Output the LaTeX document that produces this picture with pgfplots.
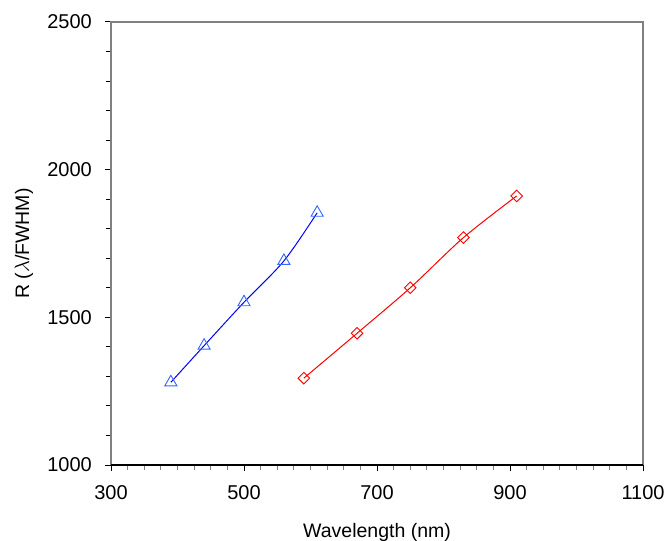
\documentclass[border=0pt]{standalone}
\usepackage{pgfplots}
\pgfplotsset{compat=1.18}
\usepackage{fontspec}
\setmainfont{Liberation Sans}
\definecolor{lineblue}{RGB}{0,0,255}
\definecolor{markblue}{RGB}{51,102,255}
\definecolor{spinegray}{RGB}{128,128,128}
\begin{document}
\begin{tikzpicture}
\begin{axis}[
  scale only axis,
  width=532pt, height=443pt,
  xmin=300, xmax=1100, ymin=1000, ymax=2500,
  xtick={300,500,700,900,1100},
  ytick={1000,1500,2000,2500},
  minor x tick num=7,
  minor y tick num=4,
  xtick pos=bottom, ytick pos=left,
  tick align=outside,
  major tick length=6pt,
  minor tick length=5pt,
  major tick style={black, line width=1pt},
  minor tick style={black, line width=0.9pt},
  minor x tick style={spinegray, line width=0.9pt},
  axis line style={draw=none},
  /pgf/number format/1000 sep={},
  /pgf/number format/assume math mode=true,
  ticklabel style={font=\fontsize{20}{24}\selectfont},
  yticklabel style={inner sep=0pt, anchor=east, xshift=-13pt},
  xticklabel style={inner sep=0pt, anchor=north, yshift=-14pt},
  xlabel={Wavelength (nm)},
  ylabel={R ($\lambda$/FWHM)},
  xlabel style={font=\fontsize{19.5}{23}\selectfont, at={([yshift=-72pt]rel axis cs:0.5,0)}, anchor=base},
  ylabel style={font=\fontsize{19.5}{23}\selectfont, at={([xshift=-87pt]rel axis cs:0,0.5)}, anchor=center},
  clip=false,
]
\draw[spinegray, line width=1.3pt] (rel axis cs:0,0) -- (rel axis cs:0,1) -- (rel axis cs:1,1) -- (rel axis cs:1,0);
\draw[black, line width=1.3pt] (rel axis cs:0,0) -- (rel axis cs:1,0);
\addplot[lineblue, line width=1pt, smooth, tension=0.5, mark=triangle, mark size=7pt, mark options={markblue, line width=0.9pt, solid}]
  coordinates {(390,1280) (440,1404) (500,1551) (560,1691) (610,1854)};
\addplot[red, line width=1pt, smooth, tension=0.5, mark=square, mark size=4.1pt, mark options={red, line width=0.9pt, rotate=45, solid}]
  coordinates {(590,1294) (670,1446) (750,1600) (830,1770) (910,1911)};
\coordinate (SW) at (rel axis cs:0,0);
\coordinate (NE) at (rel axis cs:1,1);
\end{axis}
\pgfresetboundingbox
\path[use as bounding box] ([shift={(-111pt,-75pt)}]SW) rectangle ([shift={(24pt,22pt)}]NE);
\end{tikzpicture}
\end{document}
